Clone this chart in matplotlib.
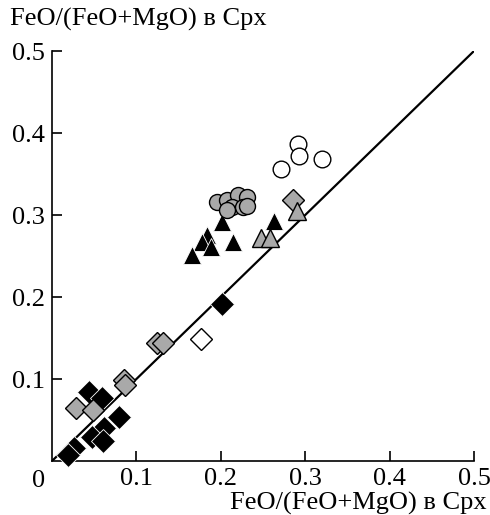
import matplotlib
matplotlib.use("Agg")
import matplotlib.pyplot as plt

# Open circles
oc_x = [0.291, 0.293, 0.320, 0.271]
oc_y = [0.387, 0.372, 0.368, 0.356]
# Gray circles
gc_x = [0.195, 0.207, 0.220, 0.231, 0.213, 0.226, 0.207, 0.231]
gc_y = [0.316, 0.318, 0.324, 0.322, 0.310, 0.310, 0.306, 0.311]
# Black triangles
bt_x = [0.202, 0.263, 0.184, 0.178, 0.188, 0.166, 0.214]
bt_y = [0.291, 0.293, 0.276, 0.267, 0.261, 0.251, 0.267]
# Gray triangles
gt_x = [0.290, 0.248, 0.258]
gt_y = [0.305, 0.272, 0.272]
# Gray diamonds
gd_x = [0.285, 0.124, 0.132, 0.085, 0.087, 0.028, 0.048]
gd_y = [0.318, 0.144, 0.144, 0.099, 0.093, 0.065, 0.062]
# Open diamonds
od_x = [0.177]
od_y = [0.149]
# Black diamonds
bd_x = [0.201, 0.044, 0.059, 0.079, 0.062, 0.047, 0.061, 0.026, 0.019]
bd_y = [0.192, 0.084, 0.077, 0.054, 0.040, 0.029, 0.024, 0.016, 0.007]

ticks = [0.1, 0.2, 0.3, 0.4, 0.5]
tick_labels = ["0.1", "0.2", "0.3", "0.4", "0.5"]
axis_label = "FeO/(FeO+MgO) в Cpx"

plt.rcParams['font.family'] = ['Liberation Serif', 'DejaVu Serif']

fig = plt.figure(figsize=(4.9, 5.15), dpi=100)
ax = fig.add_axes([52/490, 1 - 461/515, (474-52)/490, (461-51)/515])
ax.set_xlim(0, 0.5)
ax.set_ylim(0, 0.5)

ax.plot([0, 0.5], [0, 0.5], color='black', lw=1.6, zorder=1)

gray = '#a9a9a9'
ax.plot(bd_x, bd_y, 'D', ms=12.5, mfc='black', mec='white', mew=0.6, ls='none', zorder=3, clip_on=False)
ax.plot(od_x, od_y, 'D', ms=11.5, mfc='white', mec='black', mew=1.0, ls='none', zorder=3)
ax.plot(gd_x, gd_y, 'D', ms=11.5, mfc=gray, mec='black', mew=1.0, ls='none', zorder=3)
ax.plot(bt_x, bt_y, '^', ms=13.5, mfc='black', mec='white', mew=0.6, ls='none', zorder=3)
ax.plot(gt_x, gt_y, '^', ms=13, mfc=gray, mec='black', mew=1.0, ls='none', zorder=3)
ax.plot(gc_x, gc_y, 'o', ms=11.5, mfc=gray, mec='black', mew=1.0, ls='none', zorder=3)
ax.plot(oc_x, oc_y, 'o', ms=12, mfc='white', mec='black', mew=1.0, ls='none', zorder=3)

for s in ['top', 'right']:
    ax.spines[s].set_visible(False)
for s in ['left', 'bottom']:
    ax.spines[s].set_linewidth(1.2)

ax.set_xticks(ticks)
ax.set_xticklabels(tick_labels)
ax.set_yticks(ticks)
ax.set_yticklabels(tick_labels)
ax.tick_params(direction='in', length=7, width=1.2, labelsize=19, pad=5)

fig.text(39/490, 1 - 481/515, "0", ha='center', va='center', fontsize=19)
fig.text(487/490, 1 - 503/515, axis_label, ha='right', va='center', fontsize=19)
fig.text(10/490, 1 - 19/515, axis_label, ha='left', va='center', fontsize=19)

fig.savefig("out.png", dpi=100)
